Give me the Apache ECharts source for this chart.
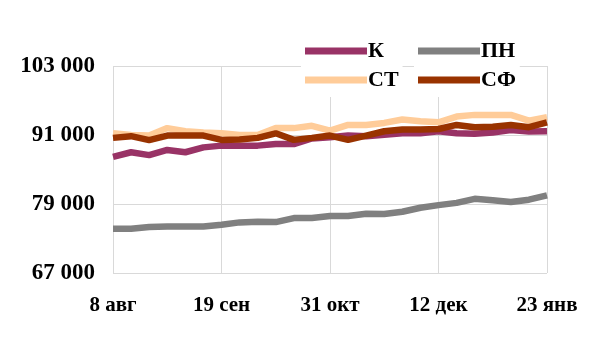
<!DOCTYPE html>
<html><head><meta charset="utf-8">
<script src="https://cdn.jsdelivr.net/npm/echarts@6/dist/echarts.min.js"></script>
<style>html,body{margin:0;padding:0;background:#fff}#c{width:600px;height:358px}</style>
</head><body><div id="c"></div>
<script>
var categories = ['8 авг','15 авг','22 авг','29 авг','5 сен','12 сен','19 сен','26 сен','3 окт','10 окт','17 окт','24 окт','31 окт','7 ноя','14 ноя','21 ноя','28 ноя','5 дек','12 дек','19 дек','26 дек','2 янв','9 янв','16 янв','23 янв'];
var seriesK  = [87200,88000,87500,88400,88000,88850,89150,89150,89150,89430,89430,90400,90600,90900,90770,91050,91300,91300,91650,91300,91200,91450,91850,91600,91650];
var seriesPN = [74700,74700,75000,75100,75100,75100,75400,75800,75900,75850,76550,76550,76900,76900,77300,77250,77650,78350,78800,79200,79900,79650,79350,79750,80500];
var seriesST = [91300,91000,90900,92200,91650,91450,91300,91000,91000,92200,92200,92600,91750,92750,92750,93100,93700,93400,93200,94200,94500,94500,94500,93500,94100];
var seriesSF = [90500,90800,90100,90900,90900,90900,90150,90200,90500,91300,90150,90500,90900,90150,90900,91650,91950,91950,92050,92750,92350,92450,92750,92350,93200];
var yTicks = [67000,79000,91000,103000];

var font = 'Liberation Serif, Times New Roman, serif';
var chart = echarts.init(document.getElementById('c'));
function mk(name, data, color){
  return {name:name,type:'line',data:data,symbol:'none',smooth:false,
    lineStyle:{width:6.5,color:color},itemStyle:{color:color}};
}
var legendCommon = {orient:'vertical',top:36,itemWidth:62,itemHeight:7,itemGap:7,icon:'rect',
  backgroundColor:'#fff',padding:[4,4,6,4],
  textStyle:{fontFamily:font,fontWeight:'bold',fontSize:22,color:'#000',padding:[0,0,0,-4]}};
chart.setOption({
  animation:false,
  grid:{left:113,right:53,top:66,bottom:85},
  legend:[
    Object.assign({left:301,data:['К','СТ']}, legendCommon),
    Object.assign({left:414,data:['ПН','СФ']}, legendCommon)
  ],
  xAxis:{type:'category',data:categories,boundaryGap:false,
    axisLine:{show:false},axisTick:{show:false},
    axisLabel:{interval:5,margin:22,fontFamily:font,fontWeight:'bold',fontSize:21,color:'#000'},
    splitLine:{show:true,interval:5,lineStyle:{color:'#d9d9d9',width:1}}},
  yAxis:{type:'value',min:yTicks[0],max:yTicks[yTicks.length-1],interval:12000,
    axisLine:{show:false},axisTick:{show:false},
    axisLabel:{margin:18,fontFamily:font,fontWeight:'bold',fontSize:23,color:'#000',
      formatter:function(v){return String(v).replace(/\B(?=(\d{3})+(?!\d))/g,' ');}},
    splitLine:{lineStyle:{color:'#d9d9d9',width:1}}},
  series:[mk('К',seriesK,'#993366'),mk('ПН',seriesPN,'#808080'),mk('СТ',seriesST,'#ffcc99'),mk('СФ',seriesSF,'#993300')]
});
</script></body></html>
